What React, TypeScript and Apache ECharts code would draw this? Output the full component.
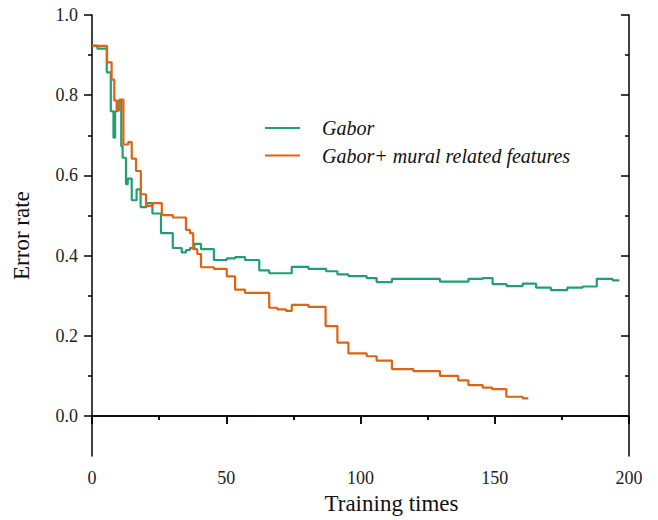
import React, { useEffect, useRef } from "react";
import * as echarts from "echarts";

// Gabor: x where each step begins, and the error rate held from there
const gaborX = [0, 2, 5.5, 7, 8, 8.6, 9.6, 10.9, 11.4, 12.66, 13.3, 14.8, 16.6, 18.1, 20.4, 22.5, 25.7, 30.1, 33.4, 35.0, 36.5, 38.1, 40.6, 45.4, 50.2, 53.3, 57.0, 62.3, 66.0, 74.4, 80.6, 87.2, 91.4, 95.5, 102.3, 106.0, 111.7, 129.6, 140.2, 145.5, 149.2, 154.4, 160.4, 165.4, 170.9, 177.0, 182.7, 188.0, 193.9, 196.4];
const gaborY = [0.924, 0.916, 0.857, 0.76, 0.694, 0.76, 0.785, 0.673, 0.644, 0.578, 0.592, 0.538, 0.565, 0.521, 0.531, 0.505, 0.456, 0.419, 0.408, 0.414, 0.419, 0.429, 0.416, 0.389, 0.393, 0.396, 0.389, 0.363, 0.356, 0.372, 0.367, 0.361, 0.353, 0.349, 0.344, 0.334, 0.342, 0.335, 0.342, 0.344, 0.329, 0.324, 0.33, 0.32, 0.314, 0.32, 0.323, 0.342, 0.338, 0.338];

// Gabor + mural related features
const muralX = [0, 5.6, 7.3, 8.3, 9.2, 10.2, 11.7, 13.5, 14.8, 16.4, 18.2, 20.1, 22.6, 26.0, 30.1, 35.0, 36.5, 37.7, 39.2, 40.6, 45.4, 50.2, 53.3, 57.0, 66.0, 69.0, 72.3, 74.4, 80.6, 87.0, 91.4, 95.5, 102.3, 106.0, 111.7, 119.7, 129.6, 136.4, 140.2, 145.5, 149.1, 154.3, 160.4, 162.5];
const muralY = [0.923, 0.882, 0.839, 0.787, 0.762, 0.789, 0.677, 0.683, 0.642, 0.611, 0.553, 0.524, 0.531, 0.501, 0.495, 0.464, 0.456, 0.416, 0.404, 0.371, 0.367, 0.348, 0.315, 0.307, 0.27, 0.266, 0.262, 0.277, 0.272, 0.224, 0.183, 0.156, 0.149, 0.138, 0.117, 0.112, 0.1, 0.089, 0.077, 0.071, 0.067, 0.048, 0.044, 0.044];

const seriesNames = ["Gabor", "Gabor+ mural related features"];
const seriesColors = ["#1f9e78", "#dd6414"];

const yMajorTicks = [0, 0.2, 0.4, 0.6, 0.8, 1.0];
const yMinorTicks = [0.1, 0.3, 0.5, 0.7, 0.9];

const FONT = "Liberation Serif";

export default function App() {
  const ref = useRef<HTMLDivElement>(null);
  useEffect(() => {
    if (!ref.current) return;
    const chart = echarts.init(ref.current, null, { renderer: "svg" });
    const black = "#000";
    const axisLine = { show: true, lineStyle: { color: black, width: 1.5 } };
    const xBase = {
      type: "value",
      min: 0,
      max: 200,
      interval: 50,
      splitLine: { show: false },
      minorSplitLine: { show: false },
      axisLine,
    };
    const yBase = {
      type: "value",
      min: -0.1,
      max: 1.0,
      interval: 0.1,
      splitLine: { show: false },
    };
    chart.setOption({
      animation: false,
      backgroundColor: "#fff",
      textStyle: { fontFamily: FONT },
      grid: { left: 92, right: 29, top: 15, bottom: 62 },
      legend: {
        orient: "vertical",
        left: 260,
        top: 113,
        icon: "rect",
        itemWidth: 35,
        itemHeight: 2,
        itemGap: 7.5,
        data: seriesNames,
        textStyle: {
          fontFamily: FONT,
          fontStyle: "italic",
          fontSize: 20,
          color: "#111",
          padding: [0, 0, 0, 17],
        },
      },
      xAxis: [
        {
          ...xBase,
          position: "bottom",
          axisTick: { show: true, length: 8, lineStyle: { color: black, width: 1.5 } },
          minorTick: { show: true, splitNumber: 2, length: 4, lineStyle: { color: black, width: 1.5 } },
          axisLabel: { fontFamily: FONT, fontSize: 18, color: "#222", margin: 13 },
          name: "Training times",
          nameLocation: "middle",
          nameGap: 35,
          nameTextStyle: { fontFamily: FONT, fontSize: 23, color: "#111", padding: [0, 0, 0, 62] },
        },
        {
          ...xBase,
          position: "top",
          axisTick: { show: true, inside: true, length: 8, lineStyle: { color: black, width: 1.5 } },
          minorTick: { show: true, splitNumber: 2, length: 4, lineStyle: { color: black, width: 1.5 } },
          axisLabel: { show: false },
        },
      ],
      yAxis: [
        {
          ...yBase,
          position: "left",
          axisLine,
          axisTick: { show: true, length: 8, customValues: yMajorTicks, lineStyle: { color: black, width: 1.5 } },
          axisLabel: {
            fontFamily: FONT,
            fontSize: 18,
            color: "#222",
            customValues: yMajorTicks,
            formatter: (v: number) => v.toFixed(1),
            margin: 14,
          },
          name: "Error rate",
          nameLocation: "middle",
          nameGap: 59,
          nameRotate: 90,
          nameTextStyle: { fontFamily: FONT, fontSize: 23, color: "#111" },
        },
        {
          ...yBase,
          position: "left",
          axisLine: { show: false },
          axisTick: { show: true, length: 4, customValues: yMinorTicks, lineStyle: { color: black, width: 1.5 } },
          axisLabel: { show: false },
        },
        {
          ...yBase,
          position: "right",
          axisLine,
          axisTick: { show: true, inside: true, length: 8, customValues: yMajorTicks, lineStyle: { color: black, width: 1.5 } },
          axisLabel: { show: false },
        },
        {
          ...yBase,
          position: "right",
          axisLine: { show: false },
          axisTick: { show: true, inside: true, length: 4, customValues: yMinorTicks, lineStyle: { color: black, width: 1.5 } },
          axisLabel: { show: false },
        },
      ],
      series: [
        {
          name: seriesNames[0],
          type: "line",
          step: "end",
          xAxisIndex: 0,
          yAxisIndex: 0,
          symbol: "none",
          showSymbol: false,
          color: seriesColors[0],
          lineStyle: { width: 2.2, color: seriesColors[0] },
          data: gaborX.map((x, i) => [x, gaborY[i]]),
        },
        {
          name: seriesNames[1],
          type: "line",
          step: "end",
          xAxisIndex: 0,
          yAxisIndex: 0,
          symbol: "none",
          showSymbol: false,
          color: seriesColors[1],
          lineStyle: { width: 2.2, color: seriesColors[1] },
          data: muralX.map((x, i) => [x, muralY[i]]),
        },
      ],
    });
    return () => chart.dispose();
  }, []);
  return (
    <div
      ref={ref}
      style={{ position: "absolute", left: 0, top: 0, width: 658, height: 520, background: "#fff" }}
    />
  );
}
